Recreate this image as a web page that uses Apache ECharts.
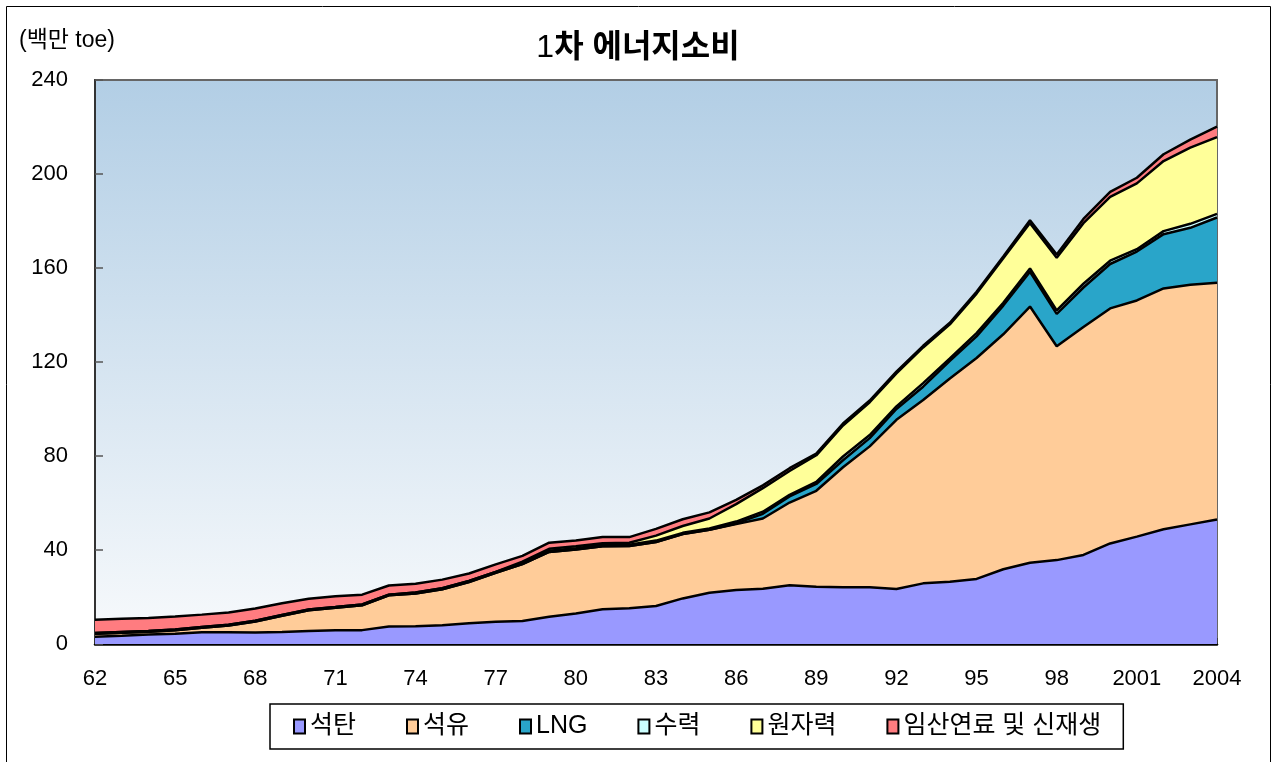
<!DOCTYPE html>
<html>
<head>
<meta charset="utf-8">
<title>1차 에너지소비</title>
<script src="https://cdn.jsdelivr.net/npm/echarts@6/dist/echarts.min.js"></script>
<style>
  html, body { margin: 0; padding: 0; background: #fff; }
  #chart { width: 1276px; height: 762px; }
</style>
</head>
<body>
<div id="chart"></div>
<script>
// 연도 라벨 (1962 ~ 2004)
var years = ['62','63','64','65','66','67','68','69','70','71','72','73','74','75','76','77','78','79',
  '80','81','82','83','84','85','86','87','88','89','90','91','92','93','94','95','96','97','98','99',
  '2000','2001','2002','2003','2004'];

// 백만 toe
var coal = [3.1,3.5,4.0,4.4,5.0,5.0,4.9,5.1,5.5,5.8,5.9,7.4,7.6,8.0,8.8,9.5,9.8,11.6,
  13.0,14.8,15.2,16.2,19.4,21.8,23.0,23.5,25.0,24.4,24.2,24.1,23.4,25.8,26.5,27.7,31.8,34.6,35.7,37.9,
  42.8,45.7,48.8,50.9,53.0];
var oil = [1.3,1.3,1.2,1.5,1.9,2.9,4.7,6.9,8.9,9.6,10.6,13.3,13.9,15.3,17.6,20.8,24.2,27.6,
  27.2,26.8,26.5,27.2,27.4,26.8,28.0,29.9,35.2,40.8,51.0,60.0,72.0,78.0,86.5,94.0,100.0,109.0,91.0,97.0,
  100.0,100.5,102.5,102.0,100.7];
var lng = [0,0,0,0,0,0,0,0,0,0,0,0,0,0,0,0,0,0,
  0,0,0,0,0,0,0.3,2.0,2.6,2.9,3.0,3.5,4.6,5.7,7.5,9.2,12.2,14.8,13.8,16.8,
  18.9,20.8,23.1,24.2,27.8];
var hydro = [0.3,0.3,0.3,0.3,0.3,0.3,0.3,0.4,0.3,0.3,0.3,0.3,0.4,0.4,0.4,0.4,0.4,0.5,
  0.5,0.6,0.5,0.6,0.5,0.6,0.8,0.9,0.7,0.9,1.6,1.3,1.1,1.5,1.0,1.4,1.2,1.4,1.5,1.6,
  1.4,1.0,1.3,1.7,1.5];
var nuclear = [0,0,0,0,0,0,0,0,0,0,0,0,0,0,0,0,0.6,0.8,
  0.9,0.7,0.9,2.1,2.9,4.2,7.4,10.0,10.1,11.3,13.2,14.0,14.1,15.2,14.5,16.8,18.9,19.3,22.4,25.8,
  27.2,28.0,29.8,32.4,32.7];
var wood = [5.6,5.6,5.6,5.5,5.3,5.2,5.2,4.9,4.6,4.6,4.2,3.9,3.7,3.7,3.2,3.2,2.5,2.6,
  2.4,2.6,2.4,2.9,2.9,2.6,1.8,1.2,1.2,0.7,0.8,0.7,0.7,0.7,0.7,0.8,0.8,1.2,1.3,1.8,
  2.1,2.4,2.9,3.4,4.5];

var names = ['석탄','석유','LNG','수력','원자력','임산연료 및 신재생'];
var colors = ['#9999ff','#ffcc99','#29a5c9','#ccffff','#ffff99','#ff7c80'];
var values = [coal, oil, lng, hydro, nuclear, wood];

var font = '"Liberation Sans", Arial, "Noto Sans CJK KR", sans-serif';

var seriesArr = [];
for (var i = 0; i < names.length; i++) {
  seriesArr.push({
    name: names[i],
    type: 'line',
    stack: 'total',
    symbol: 'none',
    data: values[i],
    lineStyle: { color: '#000', width: 2.5 },
    areaStyle: { color: colors[i], opacity: 1 },
    itemStyle: { color: colors[i], borderColor: '#000', borderWidth: 1.5 }
  });
}

var chart = echarts.init(document.getElementById('chart'));

var option = {
  animation: false,
  textStyle: { fontFamily: font },
  title: {
    text: '{n|1}{b|차 에너지소비}',
    left: 'center',
    top: 27,
    textStyle: {
      rich: {
        n: { fontSize: 32, fontWeight: 'normal', color: '#000', fontFamily: font },
        b: { fontSize: 32, fontWeight: 'bold', color: '#000', fontFamily: font }
      }
    }
  },
  graphic: [
    {
      type: 'rect',
      shape: { x: 6.5, y: 6.5, width: 1264, height: 780 },
      style: { fill: 'none', stroke: '#000', lineWidth: 1 },
      silent: true
    },
    {
      type: 'text',
      left: 19,
      top: 29,
      style: { text: '(백만 toe)', fill: '#000', font: '23px ' + font }
    }
  ],
  legend: {
    data: names,
    left: 270,
    top: 704,
    padding: [10, 22, 10, 23],
    itemGap: 50,
    itemWidth: 11,
    itemHeight: 14,
    icon: 'rect',
    backgroundColor: '#fff',
    borderColor: '#000',
    borderWidth: 1.5,
    textStyle: { fontSize: 25, color: '#000', fontFamily: font }
  },
  grid: {
    left: 95,
    right: 59,
    top: 80,
    bottom: 118,
    show: true,
    borderColor: '#666',
    borderWidth: 2,
    backgroundColor: {
      type: 'linear', x: 0, y: 0, x2: 0, y2: 1,
      colorStops: [{ offset: 0, color: '#b2cee5' }, { offset: 1, color: '#f8fafc' }]
    }
  },
  xAxis: {
    type: 'category',
    data: years,
    boundaryGap: false,
    axisLine: { lineStyle: { color: '#000', width: 2.5 } },
    axisTick: { inside: true, length: 6, interval: 0, lineStyle: { color: '#333', width: 1.5 } },
    axisLabel: { interval: 2, margin: 24, fontSize: 22, color: '#000', fontFamily: font },
    splitLine: { show: false }
  },
  yAxis: {
    type: 'value',
    min: 0,
    max: 240,
    interval: 40,
    axisLine: { show: true, lineStyle: { color: '#333', width: 2 } },
    axisTick: { show: true, inside: true, length: 8, lineStyle: { color: '#555', width: 1.5 } },
    axisLabel: { margin: 27, fontSize: 22, color: '#000', fontFamily: font },
    splitLine: { show: false }
  },
  series: seriesArr
};

chart.setOption(option);
</script>
</body>
</html>
